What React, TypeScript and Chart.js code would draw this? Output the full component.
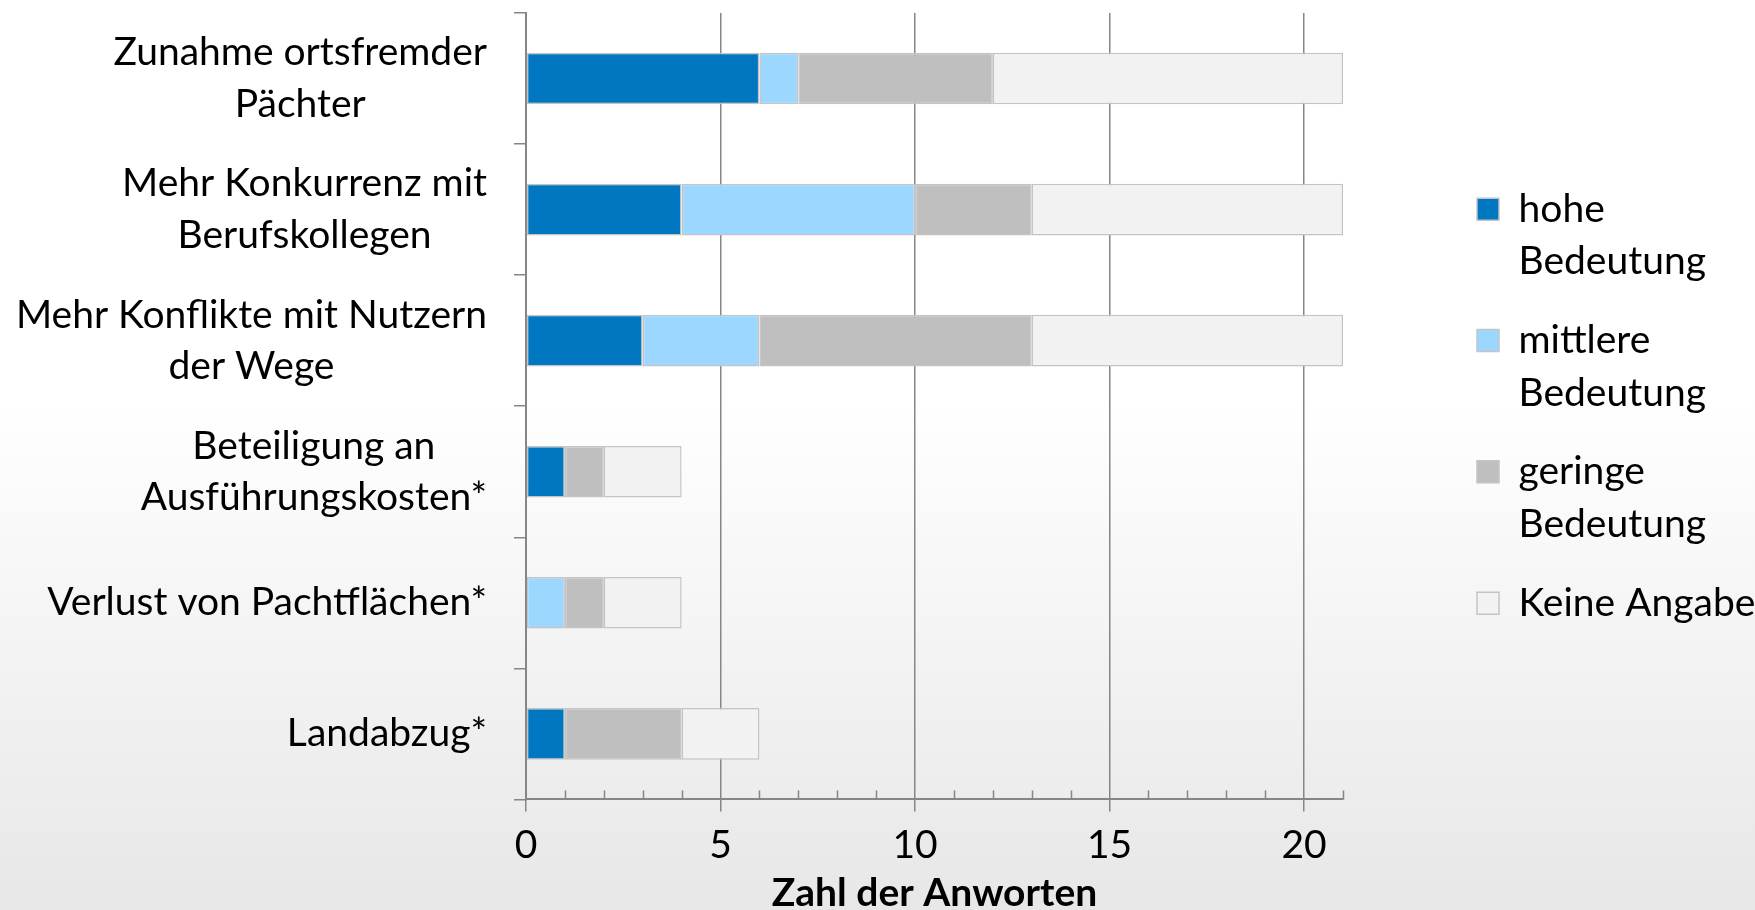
import React, { useEffect, useRef } from "react";
import { Chart, registerables } from "chart.js";

Chart.register(...registerables);

const categories: (string | string[])[] = [
  ["Zunahme ortsfremder", "Pächter"],
  ["Mehr Konkurrenz mit", "Berufskollegen"],
  ["Mehr Konflikte mit Nutzern", "der Wege"],
  ["Beteiligung an", "Ausführungskosten*"],
  "Verlust von Pachtflächen*",
  "Landabzug*",
];

const hoheBedeutung = [6, 4, 3, 1, 0, 1];
const mittlereBedeutung = [1, 6, 3, 0, 1, 0];
const geringeBedeutung = [5, 3, 7, 1, 1, 3];
const keineAngabe = [9, 8, 8, 2, 2, 2];

const seriesLabels: (string | string[])[] = [
  ["hohe", "Bedeutung"],
  ["mittlere", "Bedeutung"],
  ["geringe", "Bedeutung"],
  "Keine Angabe",
];
const seriesColors = ["#0077c0", "#9bd7ff", "#bfbfbf", "#f2f2f2"];

const xTickLabels = [0, 5, 10, 15, 20];
const xMax = 21;
const axisTitle = "Zahl der Anworten";

const FONT = "Lato";
const FSIZE = 39;
const GRID = "#868686";

const labelPlugin = {
  id: "centeredLabels",
  afterDraw(chart: any) {
    const ctx = chart.ctx;
    const ys = chart.scales.y;
    const xs = chart.scales.x;
    ctx.save();
    const f = ys.options.ticks.font;
    const size = f.size;
    const lh = size * f.lineHeight;
    ctx.font = `${size}px ${f.family}`;
    ctx.fillStyle = "#000";
    ctx.textAlign = "center";
    ctx.textBaseline = "middle";
    const right = ys.right - ys.options.grid.tickLength - ys.options.ticks.padding;
    (chart.data.labels as (string | string[])[]).forEach((lab, i) => {
      const lines = Array.isArray(lab) ? lab : [lab];
      const w = Math.max(...lines.map((l) => ctx.measureText(l).width));
      const cx = right - w / 2;
      const cy = ys.getPixelForValue(i);
      lines.forEach((l, j) => {
        ctx.fillText(l, cx, cy + (j - (lines.length - 1) / 2) * lh);
      });
    });
    // minor tick marks (upward, inside plot)
    ctx.strokeStyle = GRID;
    ctx.lineWidth = 1.5;
    for (let v = xs.min; v <= xs.max; v++) {
      if (xTickLabels.includes(v)) continue;
      const px = Math.round(xs.getPixelForValue(v)) + 0.5;
      ctx.beginPath();
      ctx.moveTo(px, xs.top);
      ctx.lineTo(px, xs.top - 9);
      ctx.stroke();
    }
    ctx.restore();
  },
};

export default function App() {
  const ref = useRef<HTMLCanvasElement | null>(null);

  useEffect(() => {
    if (!ref.current) return;
    const series = [hoheBedeutung, mittlereBedeutung, geringeBedeutung, keineAngabe];
    const chart = new Chart(ref.current, {
      type: "bar",
      data: {
        labels: categories as any,
        datasets: series.map((d, i) => ({
          label: seriesLabels[i] as any,
          data: d,
          backgroundColor: seriesColors[i],
          borderColor: "#c4c4c4",
          borderWidth: 1.5,
          borderSkipped: false,
          categoryPercentage: 1,
          barPercentage: 0.394,
        })),
      },
      options: {
        indexAxis: "y",
        responsive: false,
        maintainAspectRatio: false,
        animation: false,
        devicePixelRatio: 1,
        layout: { padding: { top: 13, bottom: 9, left: 0, right: 0 } },
        plugins: {
          tooltip: { enabled: false },
          legend: {
            position: "right",
            fullSize: false,
            maxWidth: 304,
            labels: {
              font: { family: FONT, size: FSIZE, lineHeight: 1.35 },
              color: "#000",
              boxWidth: 22,
              boxHeight: 22,
              padding: 26,
            },
          },
        },
        scales: {
          x: {
            type: "linear",
            stacked: true,
            min: 0,
            max: xMax,
            position: "bottom",
            afterFit: (s: any) => {
              s.height = s.height - 12;
            },
            ticks: {
              stepSize: 1,
              autoSkip: false,
              maxRotation: 0,
              padding: 11,
              color: "#000",
              font: { family: FONT, size: FSIZE },
              callback: (v: any) => (xTickLabels.includes(Number(v)) ? String(v) : ""),
            },
            grid: {
              color: (c: any) => (c.tick && xTickLabels.includes(c.tick.value) ? GRID : "rgba(0,0,0,0)"),
              tickColor: (c: any) => (c.tick && xTickLabels.includes(c.tick.value) ? GRID : "rgba(0,0,0,0)"),
              lineWidth: 1.5,
              tickLength: 12,
              drawTicks: true,
            },
            border: { color: GRID, width: 2 },
            title: {
              display: true,
              text: axisTitle,
              color: "#000",
              font: { family: FONT, size: FSIZE, weight: "bold" },
              padding: { top: 2, bottom: 4 },
            },
          },
          y: {
            type: "category",
            stacked: true,
            position: "left",
            afterFit: (s: any) => {
              s.width = 526;
              s.paddingTop = 0;
              s.paddingBottom = 0;
            },
            ticks: {
              color: "rgba(0,0,0,0)",
              padding: 27,
              font: { family: FONT, size: FSIZE, lineHeight: 1.32 },
            },
            grid: {
              drawOnChartArea: false,
              drawTicks: true,
              tickLength: 12,
              color: GRID,
              lineWidth: 1.5,
              offset: true,
            },
            border: { color: GRID, width: 2 },
          },
          spacer: {
            type: "linear",
            axis: "y",
            position: "right",
            display: true,
            grid: { display: false },
            ticks: { display: false },
            border: { display: false },
            afterFit: (s: any) => {
              s.width = 108;
              s.paddingTop = 0;
              s.paddingBottom = 0;
            },
          },
        },
      } as any,
      plugins: [labelPlugin],
    });
    return () => chart.destroy();
  }, []);

  return (
    <div
      style={{
        position: "fixed",
        left: 0,
        top: 0,
        width: 1755,
        height: 910,
        overflow: "hidden",
        background: "linear-gradient(to bottom, #ffffff 0%, #ffffff 44%, #e7e7e7 100%)",
      }}
    >
      <canvas ref={ref} width={1755} height={930} style={{ width: 1755, height: 930, display: "block" }} />
    </div>
  );
}
